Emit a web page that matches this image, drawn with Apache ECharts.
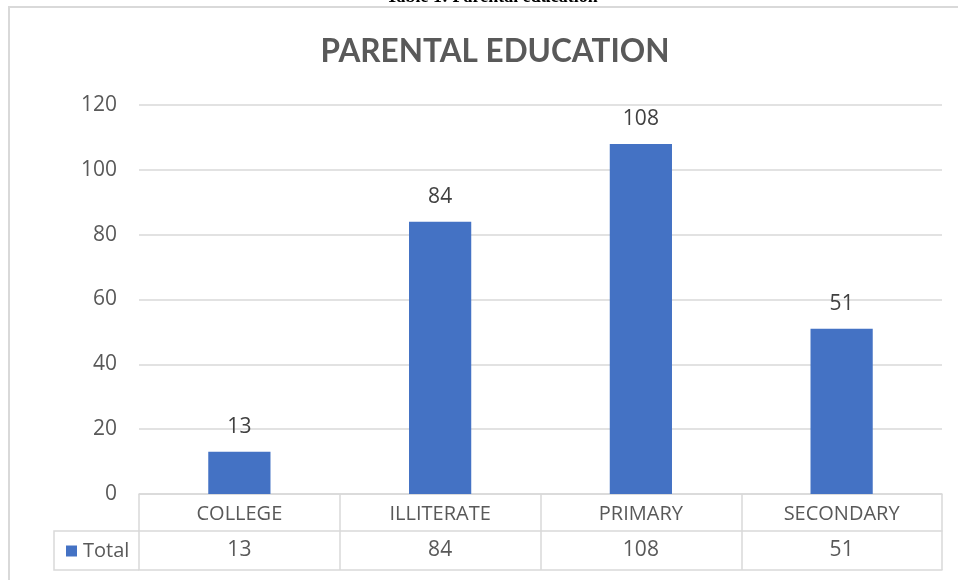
<!DOCTYPE html>
<html>
<head>
<meta charset="utf-8">
<script src="https://cdn.jsdelivr.net/npm/echarts@6/dist/echarts.min.js"></script>
<style>html,body{margin:0;padding:0;background:#fff}#c{width:958px;height:580px}</style>
</head>
<body>
<div id="c"></div>
<script>
const categories = ['COLLEGE', 'ILLITERATE', 'PRIMARY', 'SECONDARY'];
const totals = [13, 84, 108, 51];
const seriesName = 'Total';
const yTicks = [0, 20, 40, 60, 80, 100, 120];

const TXT = '#595959';
const LINE = '#d9d9d9';
const FONT = 'Open Sans';

const chart = echarts.init(document.getElementById('c'), null, {renderer: 'canvas'});
chart.setOption({
  animation: false,
  backgroundColor: '#fff',
  textStyle: {fontFamily: FONT},
  title: {
    text: 'PARENTAL EDUCATION',
    left: 490, top: 31, textAlign: 'center',
    textStyle: {fontFamily: 'Lato', fontWeight: 'bold', fontSize: 31.5, color: TXT}
  },
  legend: {
    data: [seriesName], left: 61, top: 536,
    icon: 'rect', itemWidth: 11, itemHeight: 11, itemGap: 6,
    textStyle: {fontFamily: FONT, fontSize: 20, color: TXT, padding: [0,0,0,1]}
  },
  grid: {left: 139, right: 16, top: 105, bottom: 86, containLabel: false},
  xAxis: [
    {
      type: 'category', data: categories, position: 'bottom',
      axisLine: {show: true, lineStyle: {color: LINE, width: 1.5}},
      axisTick: {show: true, length: 76, lineStyle: {color: LINE, width: 1.5}},
      axisLabel: {fontSize: 20, color: TXT, margin: 10, fontFamily: FONT}
    },
    {
      type: 'category', data: totals.map(String), position: 'bottom', offset: 37,
      axisLine: {show: true, lineStyle: {color: LINE, width: 1.5}},
      axisTick: {show: false},
      axisLabel: {fontSize: 21, color: TXT, margin: 9, fontFamily: FONT}
    },
    {
      type: 'category', data: categories, position: 'bottom', offset: 76,
      axisLine: {show: true, lineStyle: {color: LINE, width: 1.5}},
      axisTick: {show: false}, axisLabel: {show: false}
    }
  ],
  yAxis: {
    type: 'value', min: yTicks[0], max: yTicks[yTicks.length-1], interval: 20,
    axisLine: {show: false}, axisTick: {show: false},
    splitLine: {lineStyle: {color: LINE, width: 1.5}},
    axisLabel: {fontSize: 21, color: TXT, margin: 22, fontFamily: FONT}
  },
  series: [{
    name: seriesName, type: 'bar', data: totals, xAxisIndex: 0,
    barWidth: '31%',
    itemStyle: {color: '#4472C4'},
    label: {show: true, position: 'top', distance: 14, fontSize: 21, color: '#404040', fontFamily: FONT}
  }],
  graphic: [
    {type: 'rect', shape: {x: 9, y: 7, width: 1000, height: 600}, style: {fill: 'none', stroke: LINE, lineWidth: 2}, z: -1},
    {type: 'polyline', shape: {points: [[139, 531], [54, 531], [54, 570], [139, 570]]}, style: {fill: 'none', stroke: LINE, lineWidth: 1.5}},
    {type: 'text', x: 492, y: 6, style: {text: 'Table 1: Parental education', font: 'bold 18px "Liberation Serif"', fill: '#000', align: 'center', verticalAlign: 'bottom'}}
  ]
});
</script>
</body>
</html>
